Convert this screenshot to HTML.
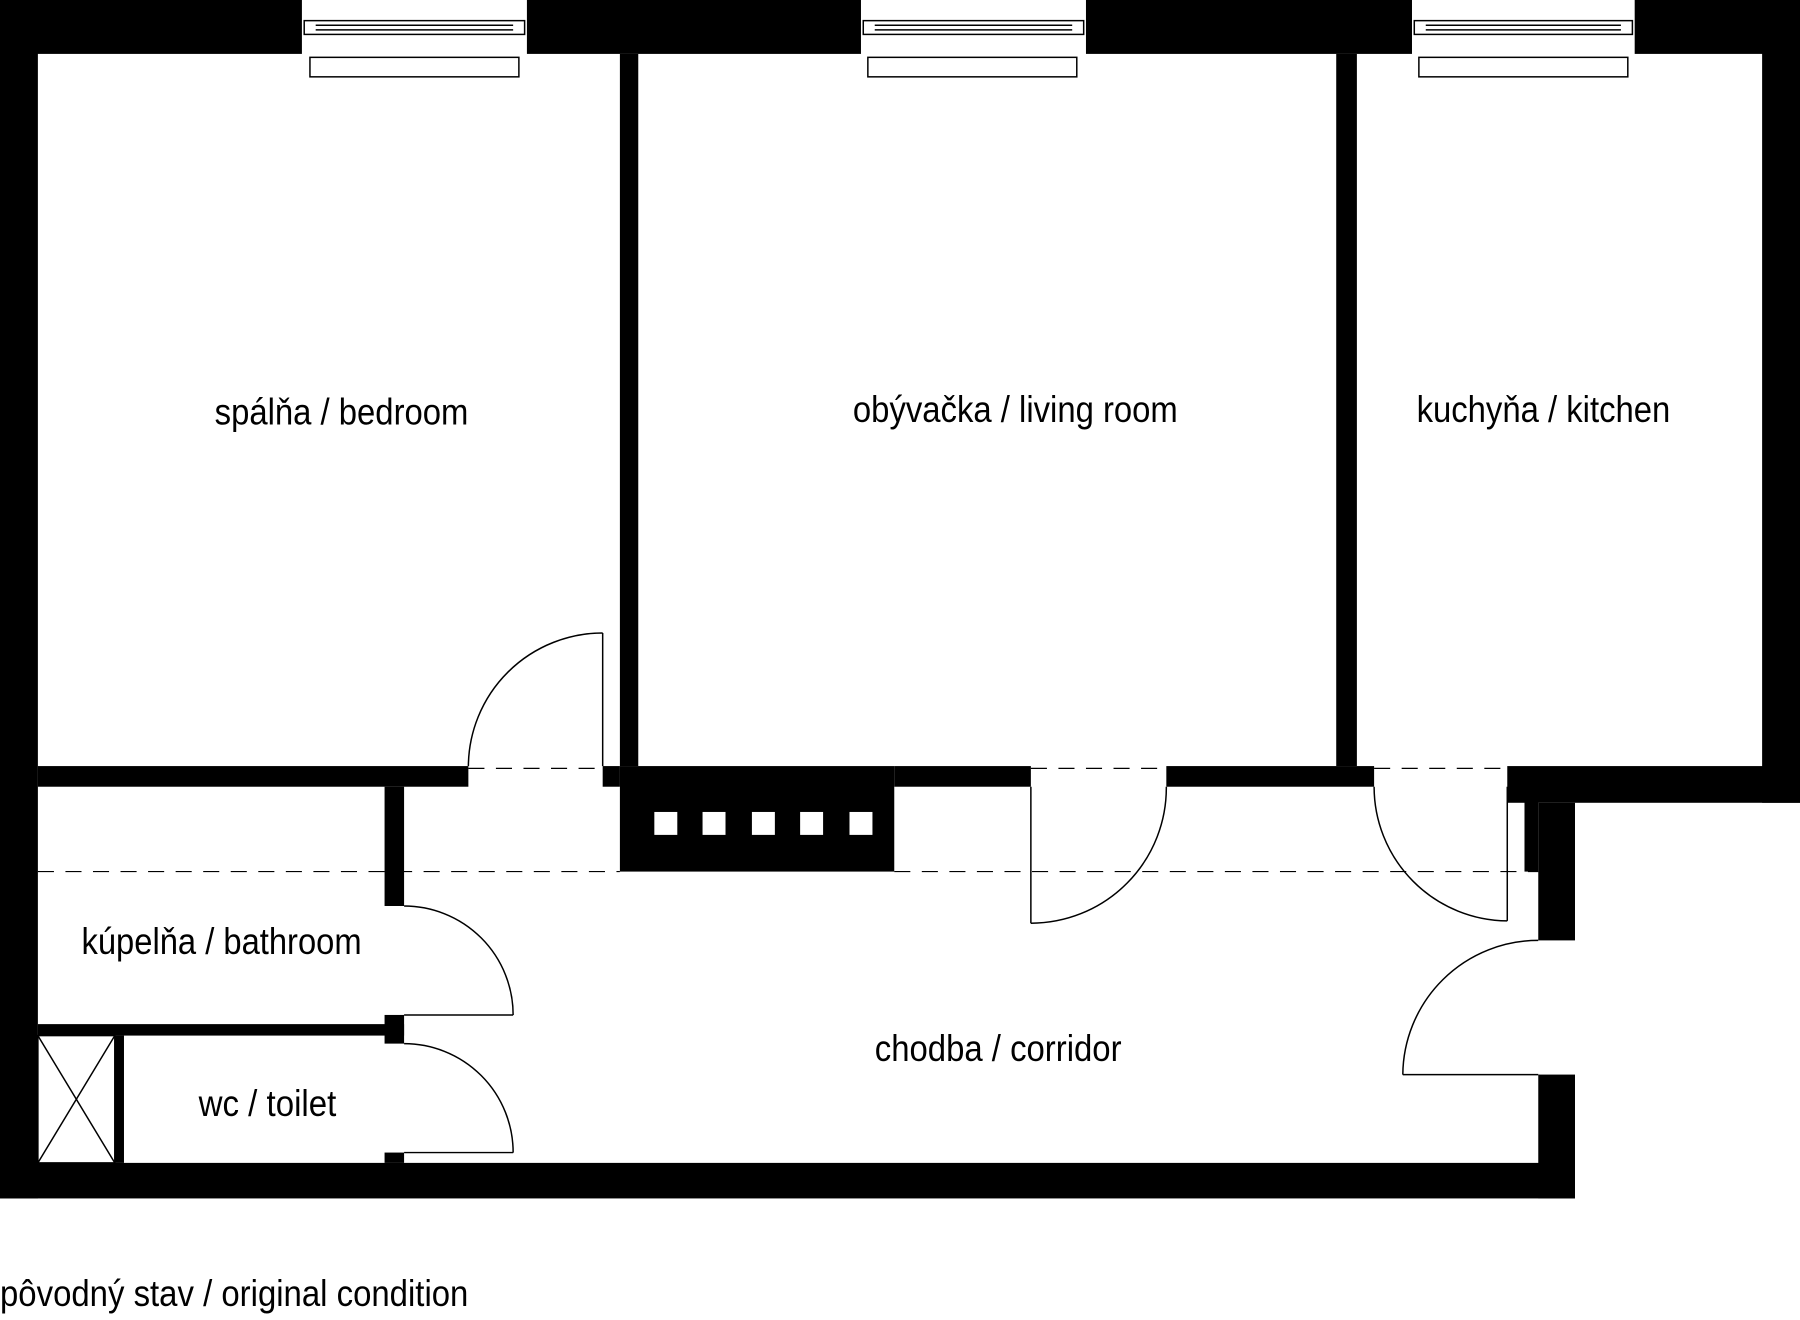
<!DOCTYPE html>
<html><head><meta charset="utf-8"><style>
html,body{margin:0;padding:0;background:#fff;}
svg{display:block;}
text{font-family:"Liberation Sans Narrow","Liberation Sans",sans-serif;font-size:32px;fill:#000;}
</style></head><body>
<svg width="1800" height="1320" viewBox="0 0 1568 1151" preserveAspectRatio="none" xmlns="http://www.w3.org/2000/svg">
<rect width="1568" height="1151" fill="#fff"/>
<g fill="#000">
<!-- top wall -->
<rect x="0" y="0" width="263" height="47"/>
<rect x="459" y="0" width="291" height="47"/>
<rect x="946" y="0" width="284" height="47"/>
<rect x="1424" y="0" width="144" height="47"/>
<!-- left, bottom -->
<rect x="0" y="0" width="33" height="1045"/>
<rect x="0" y="1014" width="1372" height="31"/>
<!-- right -->
<rect x="1535" y="0" width="33" height="700"/>
<rect x="1313" y="668" width="255" height="32"/>
<rect x="1340" y="700" width="32" height="120"/>
<rect x="1340" y="937" width="32" height="108"/>
<rect x="1328" y="686" width="12" height="74"/>
<!-- interior verticals -->
<rect x="540" y="47" width="16" height="621"/>
<rect x="1164" y="47" width="18" height="621"/>
<!-- horizontal y668 -->
<rect x="33" y="668" width="375" height="18"/>
<rect x="525" y="668" width="15" height="18"/>
<rect x="540" y="668" width="239" height="92"/>
<rect x="779" y="668" width="119" height="18"/>
<rect x="1016" y="668" width="181" height="18"/>
<!-- bathroom walls -->
<rect x="335" y="686" width="17" height="104"/>
<rect x="335" y="885" width="17" height="25"/>
<rect x="33" y="893" width="319" height="10"/>
<rect x="335" y="1005" width="17" height="9"/>
<rect x="100" y="903" width="8" height="111"/>
</g>
<g fill="#fff">
<rect x="570" y="708" width="20" height="20"/>
<rect x="612" y="708" width="20" height="20"/>
<rect x="655" y="708" width="20" height="20"/>
<rect x="697" y="708" width="20" height="20"/>
<rect x="740" y="708" width="20" height="20"/>
</g>
<g fill="none" stroke="#000" stroke-width="1.3">
<!-- windows -->
<rect x="265" y="18" width="192" height="12"/><line x1="275" y1="22" x2="447" y2="22"/><line x1="275" y1="26" x2="447" y2="26"/>
<rect x="270" y="50" width="182" height="17"/>
<rect x="752" y="18" width="192" height="12"/><line x1="762" y1="22" x2="934" y2="22"/><line x1="762" y1="26" x2="934" y2="26"/>
<rect x="756" y="50" width="182" height="17"/>
<rect x="1232" y="18" width="190" height="12"/><line x1="1242" y1="22" x2="1412" y2="22"/><line x1="1242" y1="26" x2="1412" y2="26"/>
<rect x="1236" y="50" width="182" height="17"/>
<!-- shaft X -->
<rect x="33" y="903" width="67" height="111"/>
<line x1="33" y1="903" x2="100" y2="1014"/><line x1="100" y1="903" x2="33" y2="1014"/>
<!-- doors -->
<line x1="525" y1="552" x2="525" y2="668"/><path d="M408 668 A117 117 0 0 1 525 552"/>
<line x1="898" y1="686" x2="898" y2="805"/><path d="M898 805 A118 118 0 0 0 1016 686"/>
<line x1="1313" y1="686" x2="1313" y2="803"/><path d="M1313 803 A117 117 0 0 1 1197 686"/>
<line x1="352" y1="885" x2="447" y2="885"/><path d="M447 885 A95 95 0 0 0 352 790"/>
<line x1="352" y1="1005" x2="447" y2="1005"/><path d="M447 1005 A95 95 0 0 0 352 910"/>
<line x1="1222" y1="937" x2="1340" y2="937"/><path d="M1222 937 A118 118 0 0 1 1340 820"/>
</g>
<g stroke="#000" stroke-width="1" stroke-dasharray="14 10">
<line x1="408" y1="670" x2="525" y2="670"/>
<line x1="898" y1="670" x2="1016" y2="670"/>
<line x1="1197" y1="670" x2="1313" y2="670"/>
<line x1="33" y1="760" x2="540" y2="760"/>
<line x1="779" y1="760" x2="1340" y2="760"/>
</g>
<text x="187" y="370" textLength="221" lengthAdjust="spacingAndGlyphs">spálňa / bedroom</text>
<text x="743" y="368" textLength="283" lengthAdjust="spacingAndGlyphs">obývačka / living room</text>
<text x="1234" y="368" textLength="221" lengthAdjust="spacingAndGlyphs">kuchyňa / kitchen</text>
<text x="71" y="832" textLength="244" lengthAdjust="spacingAndGlyphs">kúpelňa / bathroom</text>
<text x="762" y="925" textLength="215" lengthAdjust="spacingAndGlyphs">chodba / corridor</text>
<text x="173" y="973" textLength="120" lengthAdjust="spacingAndGlyphs">wc / toilet</text>
<text x="0" y="1139" textLength="408" lengthAdjust="spacingAndGlyphs">pôvodný stav / original condition</text>
</svg>
</body></html>
